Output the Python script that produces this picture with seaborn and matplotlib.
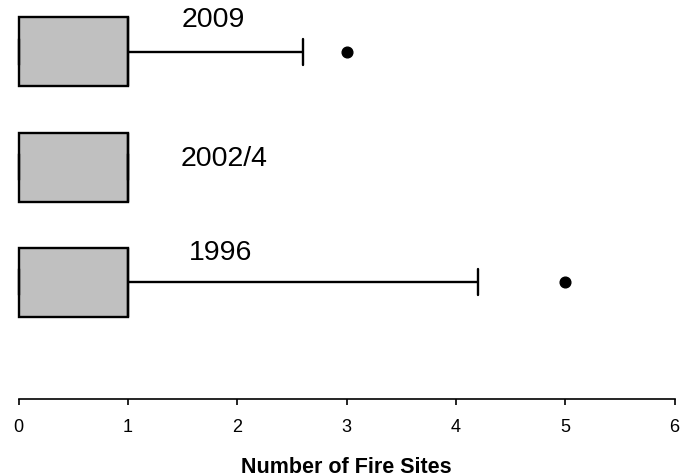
import matplotlib
matplotlib.use("Agg")
import matplotlib.pyplot as plt
import seaborn as sns
import pandas as pd

# Survey periods, top to bottom
periods = ["2009", "2002/4", "1996"]

# Number of fire sites recorded per settlement in each period
sites_2009 = [0, 0, 0, 0, 0, 1, 1, 1, 1, 2.6, 3]
sites_2002 = [0, 0, 0, 1, 1, 1, 1]
sites_1996 = [0, 0, 0, 0, 0, 1, 1, 1, 1, 4.2, 5]

# Whisker reach (multiples of the IQR) used for each period
whisker_reach = [1.7, 1.5, 3.5]

x_ticks = [0, 1, 2, 3, 4, 5, 6]
x_label = "Number of Fire Sites"

sns.set_theme(style="white")
plt.rcParams["font.family"] = ["Liberation Sans", "DejaVu Sans"]
plt.rcParams["text.color"] = "black"
plt.rcParams["axes.labelcolor"] = "black"
plt.rcParams["xtick.color"] = "black"

fig = plt.figure(figsize=(6.8, 4.77), dpi=100)
px = 109.3  # pixels per x unit
x_lo, x_hi = -0.05, 6.05
left = (18.7 + x_lo * px) / 680
width = (x_hi - x_lo) * px / 680
ax = fig.add_axes([left, (477 - 399.5) / 477, width, 399.5 / 477])

for period, values, reach in zip(periods, [sites_2009, sites_2002, sites_1996], whisker_reach):
    df = pd.DataFrame({"sites": values, "period": period})
    sns.boxplot(
        data=df, x="sites", y="period", order=periods, orient="y",
        width=0.6, whis=reach, color="#c0c0c0", linecolor="black",
        linewidth=1.7, saturation=1, capwidths=0.227, ax=ax,
        flierprops=dict(marker="o", markersize=7.7, markerfacecolor="black",
                        markeredgecolor="black"),
    )

ax.set_xlim(x_lo, x_hi)
ax.set_ylim(3.007, -0.458)

# period names written beside each box
label_pos = [(1.78, -0.282), (1.88, 0.919), (1.85, 1.739)]
for name, (lx, ly) in zip(periods, label_pos):
    ax.text(lx, ly, name, ha="center", va="center", fontsize=20.5, color="black")

for side in ["left", "right", "top"]:
    ax.spines[side].set_visible(False)
ax.spines["bottom"].set_bounds(0, 6)
ax.spines["bottom"].set_color("black")
ax.spines["bottom"].set_linewidth(1.2)

ax.set_xticks(x_ticks)
ax.set_xticklabels([str(t) for t in x_ticks], fontsize=13, color="black")
ax.tick_params(axis="x", bottom=True, length=4, width=1.2, color="black",
               labelcolor="black", pad=10)
ax.set_yticks([])
ax.set_ylabel("")
ax.set_xlabel(x_label, fontsize=15.5, fontweight="bold", color="black",
              labelpad=15)

fig.savefig("out.png", dpi=100)
